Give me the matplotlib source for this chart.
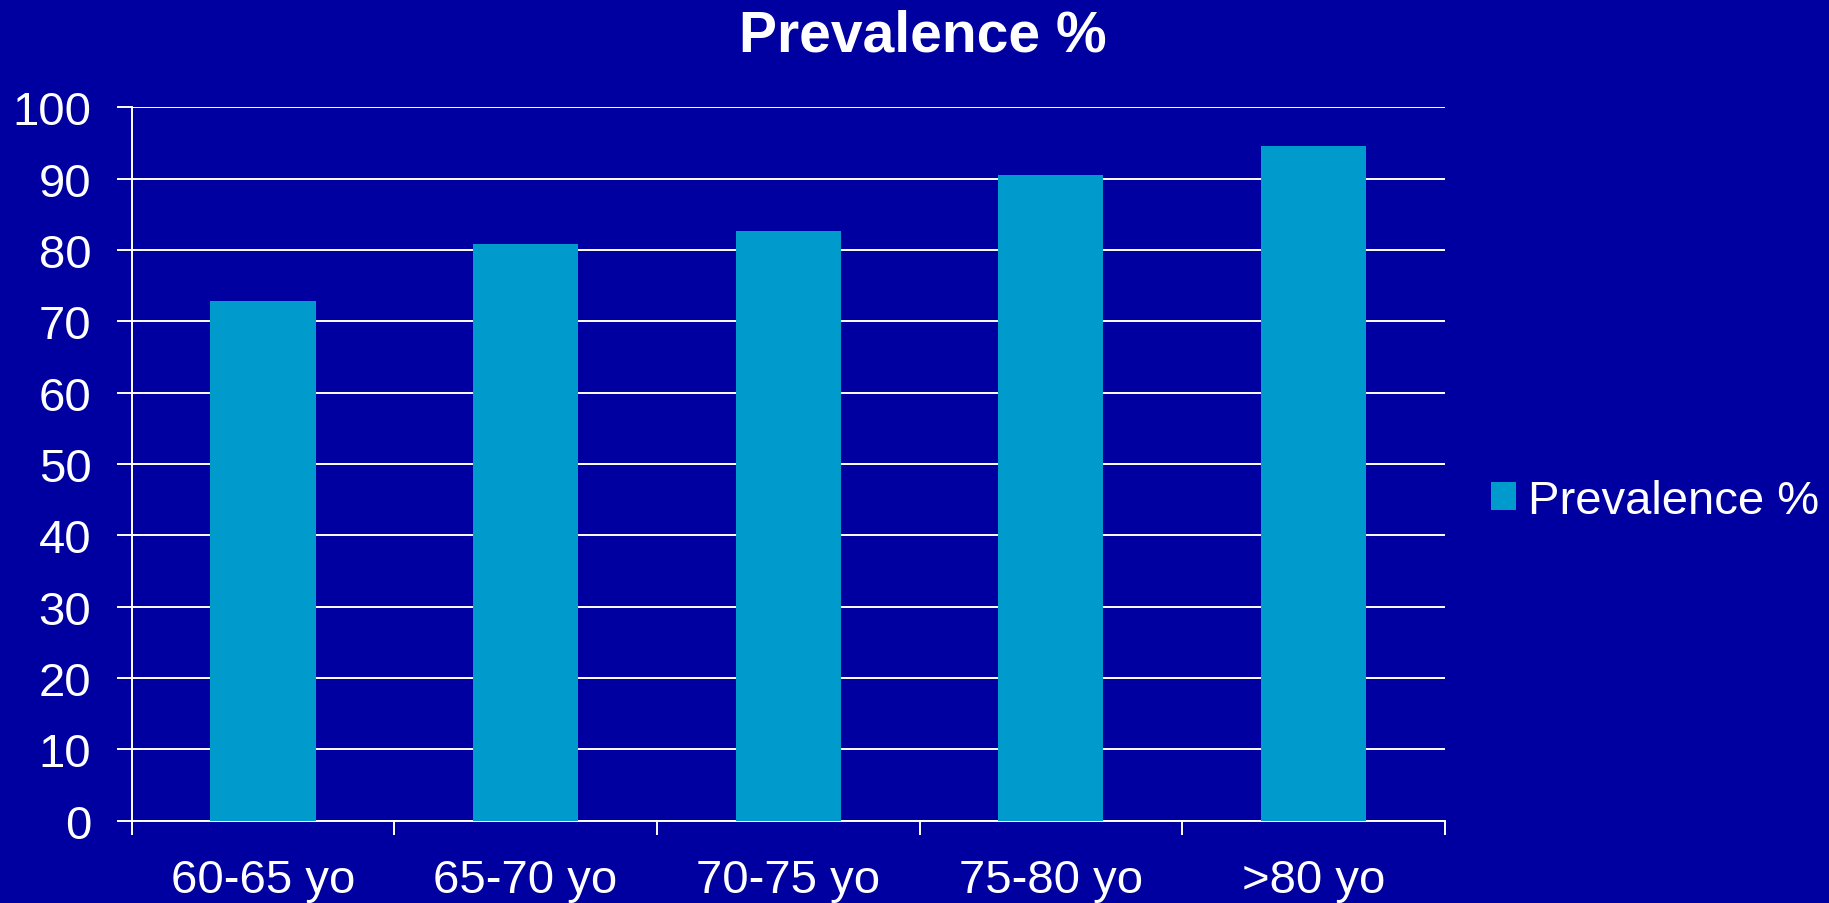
# -*- coding: utf-8 -*-
"""
Prevalence % by age group, bar chart on a dark blue slide background.
Output: out.png
"""

import numpy as np
import matplotlib.pyplot as plt
from matplotlib.ticker import FixedLocator

AGE_GROUPS = ["60-65 yo", "65-70 yo", "70-75 yo", "75-80 yo", ">80 yo"]
PREVALENCE = [72.8, 80.8, 82.6, 90.5, 94.6]
Y_TICKS = [0, 10, 20, 30, 40, 50, 60, 70, 80, 90, 100]

SERIES_NAME = "Prevalence %"
TITLE = "Prevalence %"

BG_COLOR = "#0000A0"
BAR_COLOR = "#009ACC"
FG_COLOR = "white"

plt.rcParams["font.family"] = ["Liberation Sans", "DejaVu Sans"]


if __name__ == "__main__":

    fig = plt.figure(figsize=(18.29, 9.04), dpi=100, facecolor=BG_COLOR)
    ax = fig.add_axes([0.0720, 0.0910, 0.7179, 0.7892])
    ax.set_facecolor(BG_COLOR)

    x = np.arange(len(AGE_GROUPS))
    ax.bar(x, PREVALENCE, width=0.4, color=BAR_COLOR, label=SERIES_NAME,
           zorder=3)

    ax.set_xlim(-0.5, len(AGE_GROUPS) - 0.5)
    ax.set_ylim(0, 100)

    # y axis: white gridlines at every 10, outward ticks
    ax.set_yticks(Y_TICKS)
    ax.set_yticklabels([str(v) for v in Y_TICKS])
    ax.yaxis.grid(True, color=FG_COLOR, linewidth=1.4, zorder=1)
    ax.set_axisbelow(True)

    # x axis: tick marks on category boundaries, labels in the middle
    ax.xaxis.set_major_locator(FixedLocator(np.arange(-0.5, len(AGE_GROUPS), 1.0)))
    ax.xaxis.set_minor_locator(FixedLocator(x))
    ax.set_xticklabels([], minor=False)
    ax.set_xticklabels(AGE_GROUPS, minor=True)

    ax.tick_params(axis="y", colors=FG_COLOR, labelsize=34, length=11,
                   width=1.4, pad=18, direction="out")
    ax.tick_params(axis="x", which="major", colors=FG_COLOR, length=10,
                   width=1.4, direction="out")
    ax.tick_params(axis="x", which="minor", colors=FG_COLOR, labelsize=34,
                   length=0, pad=27)

    for side in ["top", "right"]:
        ax.spines[side].set_visible(False)
    for side in ["left", "bottom"]:
        ax.spines[side].set_color(FG_COLOR)
        ax.spines[side].set_linewidth(1.4)

    leg = fig.legend(
        loc="center left",
        bbox_to_anchor=(1491 / 1829, 1 - 502 / 904),
        frameon=False,
        fontsize=34,
        handlelength=0.53,
        handleheight=0.53,
        handletextpad=0.25,
        borderpad=0,
        borderaxespad=0,
    )
    for txt in leg.get_texts():
        txt.set_color(FG_COLOR)

    fig.text(923 / 1829, 1 - 52 / 904, TITLE, ha="center", va="baseline",
             fontsize=41, fontweight="bold", color=FG_COLOR)

    fig.savefig("out.png", dpi=100, facecolor=BG_COLOR)
    plt.close(fig)
